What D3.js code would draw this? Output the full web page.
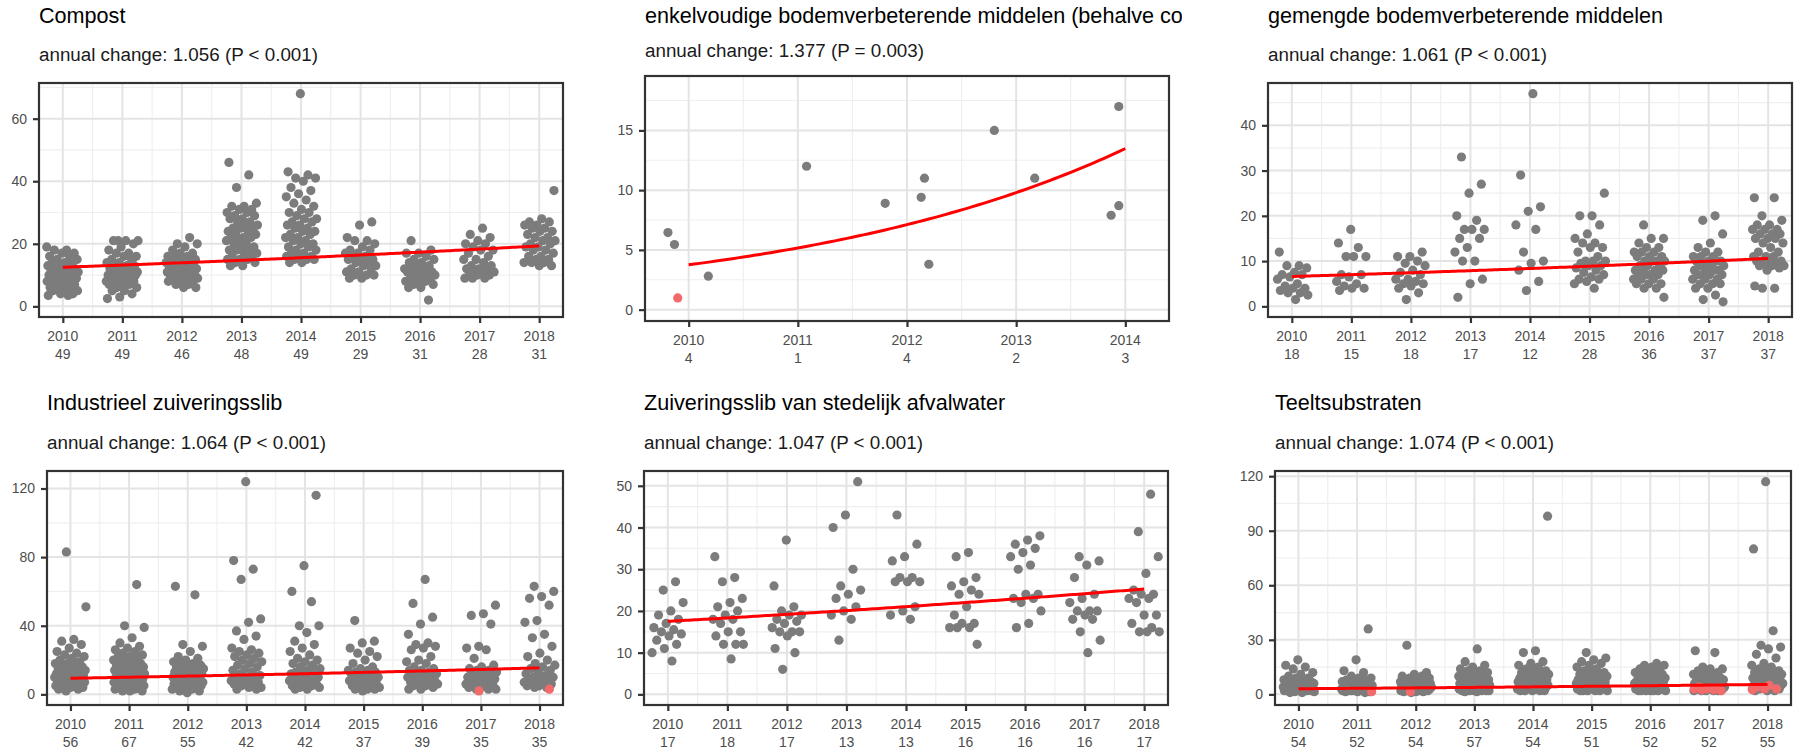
<!DOCTYPE html>
<html>
<head>
<meta charset="utf-8">
<script src="https://cdnjs.cloudflare.com/ajax/libs/d3/7.8.5/d3.min.js"></script>
<style>
  body { margin: 0; background: #fff; }
  svg { display: block; font-family: "Liberation Sans", Arial, sans-serif; }
</style>
</head>
<body>
<svg id="chart" width="1796" height="752"></svg>
<script>
// years shown on the x axes
const years = [2010, 2011, 2012, 2013, 2014, 2015, 2016, 2017, 2018]
const yearsShort = [2010, 2011, 2012, 2013, 2014]

// panel titles and fit results
const titles = [
  "Compost",
  "enkelvoudige bodemverbeterende middelen (behalve compost)",
  "gemengde bodemverbeterende middelen",
  "Industrieel zuiveringsslib",
  "Zuiveringsslib van stedelijk afvalwater",
  "Teeltsubstraten"
]
const annualChange = [1.056, 1.377, 1.061, 1.064, 1.047, 1.074]
const pLabels = ["P < 0.001", "P = 0.003", "P < 0.001", "P < 0.001", "P < 0.001", "P < 0.001"]
// fitted value in the first year
const fitStart = [12.5, 3.75, 6.6, 9.4, 17.5, 3.1]

// number of samples per year (second line of the x labels)
const compostCounts = [49, 49, 46, 48, 49, 29, 31, 28, 31]
const enkelCounts = [4, 1, 4, 2, 3]
const gemengdCounts = [18, 15, 18, 17, 12, 28, 36, 37, 37]
const industrieelCounts = [56, 67, 55, 42, 42, 37, 39, 35, 35]
const stedelijkCounts = [17, 18, 17, 13, 13, 16, 16, 16, 17]
const teeltCounts = [54, 52, 54, 57, 54, 51, 52, 52, 55]

// measured values, one list per year
const compostValues = [
  [19,18,18,17,17,16,16,15,15,14,14,14,13,13,13,12,12,12,12,11,11,11,11,10,10,10,10,10,9,9,9,9,8,8,8,8,7,7,7,6,6,6,5,5,5,4,4,3.5,3.5],
  [21,21,21,21,20,19,18,17,17,16,16,15,15,14,14,13,13,13,12,12,12,12,11,11,11,11,10,10,10,10,10,9,9,9,9,8,8,8,8,7,7,7,6,6,5,5,4,3,2.5],
  [22,20,20,19,18,17,17,16,16,16,15,15,15,14,14,14,14,13,13,13,13,12,12,12,12,12,11,11,11,11,11,10,10,10,10,9,9,9,9,8,8,8,7,7,6,6],
  [46,42,38,33,32,32,31,31,30,30,29,29,28,28,27,27,26,26,25,25,25,24,24,23,23,22,22,22,21,21,20,20,19,19,18,18,18,17,17,16,16,15,15,15,14,14,13,13],
  [68,43,42,41,41,40,38,37,36,35,34,33,32,31,30,30,29,28,28,27,27,26,26,25,25,24,24,23,23,22,22,21,21,20,20,19,19,18,18,17,17,16,16,16,15,15,15,14,14],
  [27,26,22,21,21,20,19,18,18,17,17,16,16,15,15,15,14,14,13,13,12,12,11,11,10,10,10,9,9],
  [21,18,17,17,16,15,15,14,14,13,13,12,12,12,11,11,11,10,10,10,9,9,9,8,8,8,7,7,6,6,2],
  [25,23,22,21,20,20,19,18,18,17,16,15,15,14,13,13,12,12,12,11,11,11,10,10,10,9,9,9],
  [37,28,27,27,26,26,25,25,24,24,23,22,22,21,21,20,20,19,19,18,18,17,16,16,15,15,14,14,14,13,13]
]

// few samples: decimal year (jittered position) and value
const enkelX = [2009.81, 2009.87, 2010.18, 2011.08, 2011.80, 2012.13, 2012.16, 2012.20, 2012.80, 2013.17, 2013.87, 2013.94, 2013.94]
const enkelY = [6.45, 5.45, 2.8, 12.0, 8.9, 9.4, 11.0, 3.8, 15.0, 11.0, 7.9, 8.7, 17.0]
const enkelRedX = [2009.90]
const enkelRedY = [0.98]

const gemengdValues = [
  [12,9,9,8.5,7.5,7,7,6.5,6,5,4.5,4,4,3.5,3,3,2.5,1.5],
  [17,14,13,11,11,11,7,7,6.5,5.5,5,4.5,4,4,3.5],
  [12,11,11,10,9.5,9,8,7.5,7,6,6,5.5,5,5,4.5,4,3,1.5],
  [33,27,25,20,19,17,17,17,15,15,13,12,10,10,6,5,2],
  [47,29,22,21,18,17,12,10,9.5,8,5.5,3.5],
  [25,20,20,18,16,15,14,14,13,13,12,11,10,10,10,9.5,9,9,8.5,8,7.5,7,6.5,6,6,5.5,5,4],
  [18,15,15,14,13,13,12,12,12,11,11,11,10,10,10,10,9,9,9,8,8,8,8,7,7,7,7,6,6,6,5,5,5,4,4,2],
  [20,19,16,14,13,12,12,11,11,11,10,10,10,10,9,9,9,9,8,8,8,8,7,7,7,7,6,6,6,5,5,5,4,4,2.5,1.5,1],
  [24,24,20,19,18,18,17,17,17,16,16,16,15,15,15,14,14,13,12,12,11,11,11,10,10,10,10,9.5,9.5,9,9,9,8.5,8,4.5,4,4]
]

const industrieelValues = [
  [83,51,32,31,29,27,25,24,23,22,21,20,19,18,18,17,17,16,16,15,15,14,14,14,13,13,13,12,12,12,11,11,11,10,10,10,9,9,9,8,8,8,7,7,7,6,6,6,5,5,5,4,4,3,3,2],
  [64,40,39,33,30,28,27,26,25,24,23,22,22,21,20,20,19,19,18,18,17,17,16,16,16,15,15,15,14,14,14,13,13,13,12,12,12,11,11,11,10,10,10,9,9,9,8,8,8,7,7,7,6,6,6,5,5,5,4,4,4,3,3,3,2,2,2],
  [63,58,29,28,25,22,21,20,19,18,18,17,17,16,16,15,15,14,14,13,13,13,12,12,12,11,11,11,10,10,10,9,9,9,8,8,8,7,7,7,6,6,6,5,5,5,4,4,4,3,3,3,2,2,1],
  [124,78,73,67,44,42,37,34,32,27,26,25,24,23,22,21,20,19,18,17,16,15,14,13,12,11,10,10,9,9,8,8,7,7,6,6,5,5,4,4,3,3],
  [116,75,60,54,40,40,36,31,29,27,25,23,21,20,19,18,17,16,15,14,13,13,12,12,11,11,10,10,9,9,8,8,7,7,6,6,5,5,4,4,3,3],
  [43,31,30,27,25,24,22,20,18,16,15,14,14,13,13,12,12,11,11,10,10,9,9,8,8,7,7,6,6,5,5,4,4,3,3,3,2],
  [67,53,45,41,35,30,29,28,27,26,22,20,19,18,16,15,14,14,13,13,12,12,11,11,10,10,9,9,8,8,7,7,6,6,5,5,4,3,3],
  [52,47,46,41,28,27,26,21,17,16,15,14,14,13,12,12,11,11,10,10,9,9,8,8,7,7,6,6,5,5,4,4,3,3,3],
  [63,60,57,56,52,43,42,35,33,28,24,22,20,18,17,16,15,14,13,12,11,10,10,9,9,8,8,7,7,6,6,5,5,4,4]
]
const industrieelRed = [[], [], [], [], [], [], [], [2], [3]]

const stedelijkValues = [
  [27,25,22,20,19,18,17,16,15.5,15,14.5,14,13,12,11,10,8],
  [33,28,27,23,22,21,20,19,18,18,17,15,15,14,12,12,12,8.5],
  [37,26,21,20,19,19,18,17.5,17,16,15,15,15,14,11,10,6],
  [51,43,40,30,26,25,24,23,21,20,19,18,13],
  [43,36,33,32,28,28,27,27,27,21,20,19,18],
  [34,33,28,27,26,25,24,24,21,19,17,17,16,16,16,12],
  [38,37,36,35,34,33,31,30,24,24,23,23,22,20,17,16],
  [33,32,31,28,24,23,22,20,20,20,19,18,18,15,13,10],
  [48,39,33,29,25,24,24,23,23,22,19,19,17,16,15,15,15]
]

const teeltValues = [
  [19,16,15,14,12,11,10,9,9,8,8,8,7,7,7,7,6,6,6,6,6,5,5,5,5,5,5,4,4,4,4,4,4,4,3,3,3,3,3,3,3,3,2,2,2,2,2,2,2,2,1.5,1.5,1,1],
  [36,19,13,12,10,9,9,8,8,7,7,7,6,6,6,6,5,5,5,5,5,4,4,4,4,4,4,4,3,3,3,3,3,3,3,3,3,2,2,2,2,2,2,2,2,2,2,1.5,1.5,1.5,1],
  [27,12,11,10,10,9,9,9,8,8,8,7,7,7,7,6,6,6,6,6,5,5,5,5,5,5,4,4,4,4,4,4,4,3,3,3,3,3,3,3,3,2,2,2,2,2,2,2,2,1.5,1.5,1.5,1],
  [25,18,16,15,14,13,13,12,12,11,11,10,10,10,9,9,9,8,8,8,8,7,7,7,7,6,6,6,6,6,5,5,5,5,5,5,4,4,4,4,4,4,3,3,3,3,3,3,3,2,2,2,2,2,2,1.5,1.5],
  [98,24,23,18,17,16,15,14,13,13,12,12,11,11,10,10,10,9,9,9,8,8,8,8,7,7,7,7,6,6,6,6,6,5,5,5,5,5,4,4,4,4,4,3,3,3,3,3,3,2,2,2,2,2],
  [23,20,19,18,17,16,15,14,13,12,12,11,11,10,10,9,9,9,8,8,8,7,7,7,7,6,6,6,6,5,5,5,5,5,4,4,4,4,4,3,3,3,3,3,3,2,2,2,2,2,2],
  [17,16,16,15,14,13,13,12,12,11,11,10,10,10,9,9,9,8,8,8,7,7,7,7,6,6,6,6,6,5,5,5,5,5,4,4,4,4,4,3,3,3,3,3,3,2,2,2,2,2,2,2],
  [24,23,15,14,14,13,12,11,11,10,10,9,9,9,8,8,8,7,7,7,6,6,6,6,5,5,5,5,5,4,4,4,4,4,3,3,3,3,3,3,2,2,2,2,2],
  [117,80,35,27,26,25,22,20,17,16,15,14,13,13,12,12,11,11,10,10,9,9,9,8,8,8,7,7,7,7,6,6,6,6,5,5,5,5,5,4,4,4,4,3,3,3,3,2,2,2]
]
const teeltRed = [[], [1.5], [1.5], [], [], [], [], [4,3.5,3,3,2.5,2.5,2], [5,4,3,3,2.5]]

// spread of the points around their year (same role as geom_jitter)
function jitter(i, k) {
  const f = (i * 0.6180339887 + k * 0.37) % 1
  return (f - 0.5) * 0.54
}

function toPoints(ticks, lists, k0) {
  const pts = []
  lists.forEach((vals, j) => vals.forEach((v, i) => pts.push({x: ticks[j] + jitter(i, j + k0), y: v})))
  return pts
}

const panels = [
  {box: [39, 83, 563, 317], xDomain: [2009.6, 2018.4], yDomain: [-3.4, 71.4], yMajor: [0, 20, 40, 60], yMinor: [10, 30, 50, 70],
   ticks: years, counts: compostCounts, points: toPoints(years, compostValues, 0), red: [], titleY: 22.5, subY: 61},
  {box: [645, 76, 1169, 321], xDomain: [2009.6, 2014.4], yDomain: [-0.95, 19.55], yMajor: [0, 5, 10, 15], yMinor: [2.5, 7.5, 12.5, 17.5],
   ticks: yearsShort, counts: enkelCounts, points: enkelX.map((d, i) => ({x: d, y: enkelY[i]})),
   red: enkelRedX.map((d, i) => ({x: d, y: enkelRedY[i]})), titleY: 22.5, subY: 57, clip: 1182},
  {box: [1268, 83, 1792, 317], xDomain: [2009.6, 2018.4], yDomain: [-2.35, 49.35], yMajor: [0, 10, 20, 30, 40], yMinor: [5, 15, 25, 35, 45],
   ticks: years, counts: gemengdCounts, points: toPoints(years, gemengdValues, 3), red: [], titleY: 22.5, subY: 61},
  {box: [47, 471, 563, 705], xDomain: [2009.6, 2018.4], yDomain: [-6.2, 130.2], yMajor: [0, 40, 80, 120], yMinor: [20, 60, 100],
   ticks: years, counts: industrieelCounts, points: toPoints(years, industrieelValues, 1), red: toPoints(years, industrieelRed, 5), titleY: 410, subY: 449},
  {box: [644, 471, 1168, 705], xDomain: [2009.6, 2018.4], yDomain: [-2.55, 53.55], yMajor: [0, 10, 20, 30, 40, 50], yMinor: [5, 15, 25, 35, 45],
   ticks: years, counts: stedelijkCounts, points: toPoints(years, stedelijkValues, 2), red: [], titleY: 410, subY: 449},
  {box: [1275, 471, 1791, 705], xDomain: [2009.6, 2018.4], yDomain: [-5.85, 122.85], yMajor: [0, 30, 60, 90, 120], yMinor: [15, 45, 75, 105],
   ticks: years, counts: teeltCounts, points: toPoints(years, teeltValues, 4), red: toPoints(years, teeltRed, 7), titleY: 410, subY: 449}
]

const svg = d3.select("#chart")

panels.forEach((p, k) => {
  const [x0, y0, x1, y1] = p.box
  const x = d3.scaleLinear().domain(p.xDomain).range([x0, x1])
  const y = d3.scaleLinear().domain(p.yDomain).range([y1, y0])
  const g = svg.append("g")

  //title, the long one is cut at the edge of its column
  const title = g.append("text")
    .attr("x", x0).attr("y", p.titleY)
    .attr("font-size", 21.6).attr("fill", "#000")
    .text(titles[k])
  if (p.clip) {
    svg.append("clipPath").attr("id", "clip" + k)
      .append("rect").attr("x", 0).attr("y", 0).attr("width", p.clip).attr("height", 60)
    title.attr("clip-path", "url(#clip" + k + ")")
  }
  g.append("text")
    .attr("x", x0).attr("y", p.subY)
    .attr("font-size", 18.8).attr("fill", "#1a1a1a")
    .text("annual change: " + annualChange[k].toFixed(3) + " (" + pLabels[k] + ")")

  //grid lines
  const xMinor = p.ticks.slice(0, -1).map(t => t + 0.5)
  g.selectAll(".vminor").data(xMinor).join("line")
    .attr("x1", d => x(d)).attr("x2", d => x(d)).attr("y1", y0).attr("y2", y1)
    .attr("stroke", "#efefef").attr("stroke-width", 1.2)
  g.selectAll(".hminor").data(p.yMinor).join("line")
    .attr("x1", x0).attr("x2", x1).attr("y1", d => y(d)).attr("y2", d => y(d))
    .attr("stroke", "#efefef").attr("stroke-width", 1.2)
  g.selectAll(".vmajor").data(p.ticks).join("line")
    .attr("x1", d => x(d)).attr("x2", d => x(d)).attr("y1", y0).attr("y2", y1)
    .attr("stroke", "#e4e4e4").attr("stroke-width", 2)
  g.selectAll(".hmajor").data(p.yMajor).join("line")
    .attr("x1", x0).attr("x2", x1).attr("y1", d => y(d)).attr("y2", d => y(d))
    .attr("stroke", "#e4e4e4").attr("stroke-width", 2)

  //points
  g.selectAll(".pt").data(p.points).join("circle")
    .attr("cx", d => x(d.x)).attr("cy", d => y(d.y)).attr("r", 4.6)
    .attr("fill", "#7c7c7c")
  g.selectAll(".red").data(p.red).join("circle")
    .attr("cx", d => x(d.x)).attr("cy", d => y(d.y)).attr("r", 4.6)
    .attr("fill", "#f26a6a")

  //fitted trend: start * annual change ^ (year - first year)
  const first = p.ticks[0]
  const last = p.ticks[p.ticks.length - 1]
  const fit = d3.range(first, last + 0.001, 0.05)
    .map(t => ({x: t, y: fitStart[k] * Math.pow(annualChange[k], t - first)}))
  g.append("path").datum(fit)
    .attr("d", d3.line().x(d => x(d.x)).y(d => y(d.y)))
    .attr("fill", "none").attr("stroke", "#ff0000").attr("stroke-width", 3)

  //panel border
  g.append("rect")
    .attr("x", x0).attr("y", y0).attr("width", x1 - x0).attr("height", y1 - y0)
    .attr("fill", "none").attr("stroke", "#333").attr("stroke-width", 2.2)

  //y axis
  const yAxis = g.append("g")
    .attr("transform", "translate(" + x0 + ",0)")
    .call(d3.axisLeft(y).tickValues(p.yMajor).tickSize(6).tickPadding(6))
  yAxis.select(".domain").remove()
  yAxis.selectAll("line").attr("stroke", "#333").attr("stroke-width", 2.2)
  yAxis.selectAll("text").attr("font-size", 14).attr("fill", "#4d4d4d")
    .attr("font-family", "Liberation Sans, Arial, sans-serif")

  //x axis with year and number of samples
  const xAxis = g.append("g")
    .attr("transform", "translate(0," + y1 + ")")
    .call(d3.axisBottom(x).tickValues(p.ticks).tickSize(6).tickFormat(""))
  xAxis.select(".domain").remove()
  xAxis.selectAll("line").attr("stroke", "#333").attr("stroke-width", 2.2)

  g.selectAll(".xyear").data(p.ticks).join("text")
    .attr("x", d => x(d)).attr("y", y1 + 24)
    .attr("text-anchor", "middle").attr("font-size", 14).attr("fill", "#4d4d4d")
    .text(d => d)
  g.selectAll(".xcount").data(p.counts).join("text")
    .attr("x", (d, i) => x(p.ticks[i])).attr("y", y1 + 42)
    .attr("text-anchor", "middle").attr("font-size", 14).attr("fill", "#4d4d4d")
    .text(d => d)
})
</script>
</body>
</html>
